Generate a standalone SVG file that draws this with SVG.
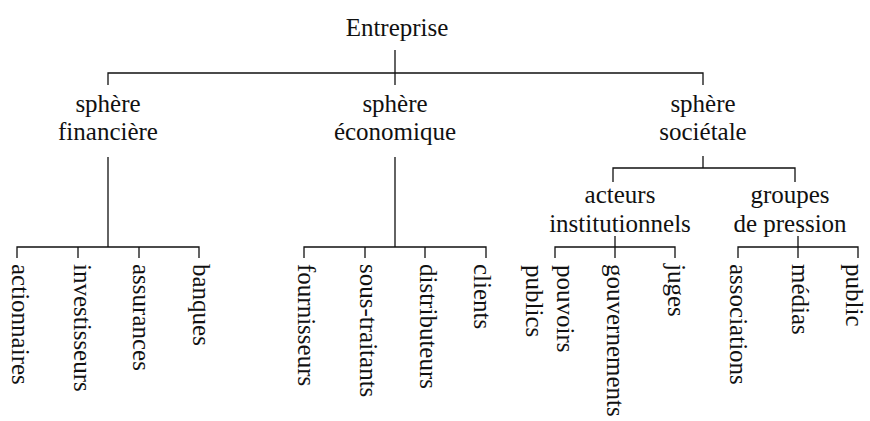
<svg xmlns="http://www.w3.org/2000/svg" width="870" height="421" viewBox="0 0 870 421">
<style>
text{font-family:"Liberation Serif","Times New Roman",serif;font-size:25px;fill:#111}
.c{text-anchor:middle}
#connectors path{fill:none;stroke:#111;stroke-width:1.3}
</style>
<rect width="870" height="421" fill="#fff"/>
<g id="connectors">
<path d="M395,50V85M108,85V73H703V85"/>
<path d="M108,157V247M17,258V247H199V258M78,247V258M139,247V258"/>
<path d="M395,157V247M304,258V247H486V258M365,247V258M425,247V258"/>
<path d="M703,156V168M613,182V168H795V182"/>
<path d="M615,236V258M555,258V247H675V258"/>
<path d="M798,236V258M738,258V247H858V258"/>
</g>
<g id="n-entreprise"><text class="c" x="397" y="36">Entreprise</text></g>
<g id="n-financiere"><text class="c" x="108" y="112">sphère</text><text class="c" x="108" y="140">financière</text></g>
<g id="n-economique"><text class="c" x="395" y="112">sphère</text><text class="c" x="395" y="140">économique</text></g>
<g id="n-societale"><text class="c" x="703" y="112">sphère</text><text class="c" x="703" y="140">sociétale</text></g>
<g id="n-acteurs"><text class="c" x="620" y="203">acteurs</text><text class="c" x="620" y="232">institutionnels</text></g>
<g id="n-groupes"><text class="c" x="790" y="203">groupes</text><text class="c" x="790" y="232">de pression</text></g>
<g id="n-actionnaires"><text transform="translate(12,264) rotate(90)">actionnaires</text></g>
<g id="n-investisseurs"><text transform="translate(74,264) rotate(90)">investisseurs</text></g>
<g id="n-assurances"><text transform="translate(133,264) rotate(90)">assurances</text></g>
<g id="n-banques"><text transform="translate(193,264) rotate(90)">banques</text></g>
<g id="n-fournisseurs"><text transform="translate(298,264) rotate(90)">fournisseurs</text></g>
<g id="n-soustraitants"><text transform="translate(360,264) rotate(90)">sous-traitants</text></g>
<g id="n-distributeurs"><text transform="translate(420,264) rotate(90)">distributeurs</text></g>
<g id="n-clients"><text transform="translate(474,264) rotate(90)">clients</text></g>
<g id="n-pouvoirs"><text transform="translate(557,265) rotate(90)">pouvoirs</text><text transform="translate(526,265) rotate(90)">publics</text></g>
<g id="n-gouvernements"><text transform="translate(607,264) rotate(90)">gouvernements</text></g>
<g id="n-juges"><text transform="translate(668,264) rotate(90)">juges</text></g>
<g id="n-associations"><text transform="translate(730,264) rotate(90)">associations</text></g>
<g id="n-medias"><text transform="translate(792,264) rotate(90)">médias</text></g>
<g id="n-public"><text transform="translate(846,264) rotate(90)">public</text></g>
</svg>
